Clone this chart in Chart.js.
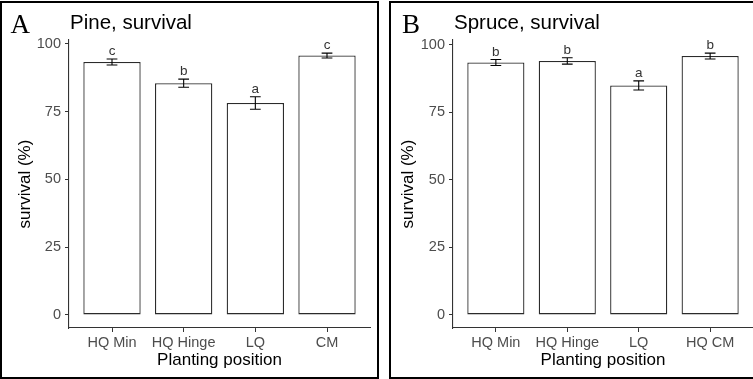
<!DOCTYPE html>
<html>
<head>
<meta charset="utf-8">
<script src="https://cdn.jsdelivr.net/npm/chart.js@4.4.0/dist/chart.umd.min.js"></script>
<style>
  html, body { margin: 0; padding: 0; background: #fff; }
  body { width: 753px; height: 379px; position: relative; overflow: hidden; }
  .panel { position: absolute; top: 0; height: 379px; }
  #pinePanel { left: 0; width: 379px; }
  #sprucePanel { left: 388px; width: 365px; }
</style>
</head>
<body>
<div class="panel" id="pinePanel"><canvas id="pineChart"></canvas></div>
<div class="panel" id="sprucePanel"><canvas id="spruceChart"></canvas></div>
<script>
const pineCategories = ["HQ Min", "HQ Hinge", "LQ", "CM"];
const pineSurvival = [93.3, 85.5, 78.2, 95.7];
const pineSe = [1.1, 1.5, 2.3, 0.9];
const pineLetters = ["c", "b", "a", "c"];

const spruceCategories = ["HQ Min", "HQ Hinge", "LQ", "HQ CM"];
const spruceSurvival = [93.5, 94.1, 85.0, 95.9];
const spruceSe = [1.1, 1.2, 1.7, 1.1];
const spruceLetters = ["b", "b", "a", "b"];

const yTicks = [0, 25, 50, 75, 100];

const SANS = "'Liberation Sans', Arial, sans-serif";
const SERIF = "'Liberation Serif', 'Times New Roman', serif";

// error bars, letters, frame and headings
const panelDecor = {
  id: "panelDecor",
  beforeDraw(chart) {
    const ctx = chart.ctx;
    ctx.save();
    ctx.fillStyle = "#fff";
    ctx.fillRect(0, 0, chart.width, chart.height);
    ctx.restore();
  },
  afterDatasetsDraw(chart, args, opts) {
    const { ctx, scales: { x, y } } = chart;
    const points = chart.data.datasets[0].data;
    ctx.save();
    ctx.strokeStyle = "#000";
    ctx.lineWidth = 1.1;
    ctx.fillStyle = "#333";
    ctx.font = "13.5px " + SANS;
    ctx.textAlign = "center";
    ctx.textBaseline = "alphabetic";
    points.forEach((pt, i) => {
      const se = opts.se[i];
      const cx = x.getPixelForValue(pt.x);
      const hw = x.getPixelForValue(pt.x + 0.075) - cx;
      const top = y.getPixelForValue(pt.y + se);
      const bot = y.getPixelForValue(pt.y - se);
      ctx.beginPath();
      ctx.moveTo(cx, top);
      ctx.lineTo(cx, bot);
      ctx.moveTo(cx - hw, top);
      ctx.lineTo(cx + hw, top);
      ctx.moveTo(cx - hw, bot);
      ctx.lineTo(cx + hw, bot);
      ctx.stroke();
      ctx.fillText(opts.letters[i], cx, top - 4);
    });
    ctx.restore();
  },
  afterDraw(chart, args, opts) {
    const ctx = chart.ctx;
    ctx.save();
    ctx.strokeStyle = "#000";
    ctx.lineWidth = 2;
    ctx.strokeRect(opts.frame[0], opts.frame[1], opts.frame[2], opts.frame[3]);
    ctx.fillStyle = "#000";
    ctx.textAlign = "left";
    ctx.textBaseline = "alphabetic";
    ctx.font = "27px " + SERIF;
    ctx.fillText(opts.tag, opts.tagX, 33);
    ctx.font = "20.5px " + SANS;
    ctx.fillText(opts.heading, chart.chartArea.left + 1, 28.5);
    ctx.restore();
  }
};

function makePanel(canvasId, categories, values, se, letters, cfg) {
  const top = Math.max(...values.map((v, i) => v + se[i]));
  return new Chart(document.getElementById(canvasId), {
    type: "bar",
    data: {
      datasets: [{
        data: values.map((v, i) => ({ x: i, y: v })),
        backgroundColor: "#fff",
        borderColor: "#2b2b2b",
        borderWidth: 1.3,
        borderSkipped: false,
        barPercentage: 0.8,
        categoryPercentage: 1
      }]
    },
    options: {
      responsive: true,
      maintainAspectRatio: false,
      animation: false,
      layout: { padding: { top: 40, right: cfg.padRight, bottom: 0, left: 0 } },
      plugins: {
        legend: { display: false },
        tooltip: { enabled: false },
        panelDecor: {
          se: se,
          letters: letters,
          tag: cfg.tag,
          tagX: cfg.tagX,
          heading: cfg.heading,
          frame: cfg.frame
        }
      },
      scales: {
        x: {
          type: "linear",
          offset: false,
          min: -0.6,
          max: categories.length - 0.4,
          afterBuildTicks: (scale) => {
            scale.ticks = categories.map((_, i) => ({ value: i }));
          },
          afterFit: (scale) => { scale.height = 51; },
          grid: { offset: false, drawOnChartArea: false, drawTicks: true, tickLength: 4, tickColor: "#333" },
          border: { display: true, color: "#333", width: 1.1 },
          ticks: {
            color: "#4d4d4d",
            font: { family: SANS, size: 14.5 },
            padding: 2,
            maxRotation: 0,
            autoSkip: false,
            callback: (v) => categories[v]
          },
          title: {
            display: true,
            text: "Planting position",
            color: "#000",
            font: { family: SANS, size: 17 },
            padding: { top: 0, bottom: 8.8 }
          }
        },
        y: {
          min: -0.05 * top,
          max: 1.05 * top,
          afterBuildTicks: (scale) => {
            scale.ticks = yTicks.map((v) => ({ value: v }));
          },
          afterFit: (scale) => { scale.width = cfg.axisWidth; },
          grid: { drawOnChartArea: false, drawTicks: true, tickLength: 4, tickColor: "#333" },
          border: { display: true, color: "#333", width: 1.1 },
          ticks: {
            color: "#4d4d4d",
            font: { family: SANS, size: 14.5 },
            padding: 4
          },
          title: {
            display: true,
            text: "survival (%)",
            color: "#000",
            font: { family: SANS, size: 17 },
            padding: { top: cfg.yTitlePad, bottom: 0 }
          }
        }
      }
    },
    plugins: [panelDecor]
  });
}

makePanel("pineChart", pineCategories, pineSurvival, pineSe, pineLetters, {
  tag: "A", tagX: 10.5, heading: "Pine, survival",
  padRight: 9, axisWidth: 69, yTitlePad: 14.8,
  frame: [1, 2, 377, 376]
});

makePanel("spruceChart", spruceCategories, spruceSurvival, spruceSe, spruceLetters, {
  tag: "B", tagX: 14, heading: "Spruce, survival",
  padRight: 0, axisWidth: 65, yTitlePad: 9.8,
  frame: [2, 2, 372, 376]
});
</script>
</body>
</html>
